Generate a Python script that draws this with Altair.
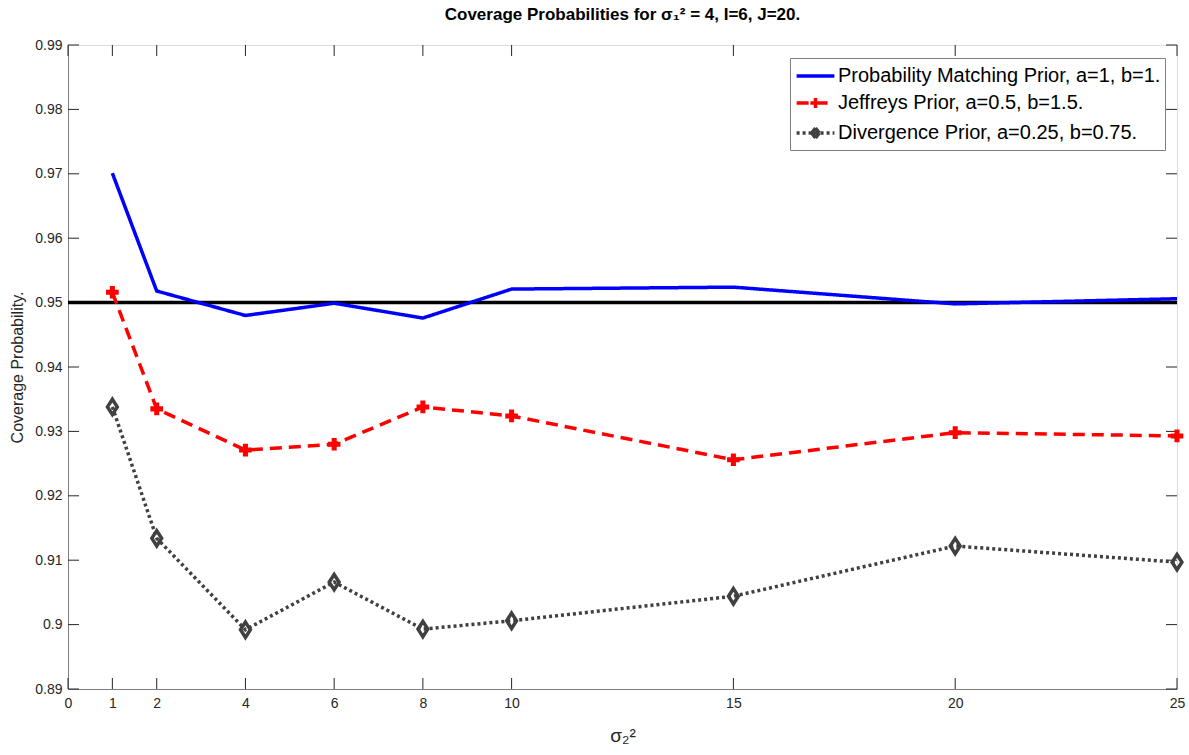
import altair as alt
import pandas as pd

x_vals = [1, 2, 4, 6, 8, 10, 15, 20, 25]
pm_vals = [0.9701, 0.9518, 0.9480, 0.9499, 0.9476, 0.9521, 0.9524, 0.9498, 0.9506]
jf_vals = [0.9516, 0.9335, 0.9271, 0.9280, 0.9338, 0.9324, 0.9256, 0.9298, 0.9293]
dv_vals = [0.9338, 0.9134, 0.8992, 0.9066, 0.8993, 0.9006, 0.9044, 0.9122, 0.9097]
series_names = [
    "Probability Matching Prior, a=1, b=1.",
    "Jeffreys Prior, a=0.5, b=1.5.",
    "Divergence Prior, a=0.25, b=0.75.",
]
series_colors = ["#0000ff", "#ff0000", "#404040"]
series_dashes = [[1, 0], [12, 7], [3, 3]]
x_ticks = [0, 1, 2, 4, 6, 8, 10, 15, 20, 25]
y_ticks = [0.89, 0.9, 0.91, 0.92, 0.93, 0.94, 0.95, 0.96, 0.97, 0.98, 0.99]
target = 0.95

rows = []
for name, vals in zip(series_names, [pm_vals, jf_vals, dv_vals]):
    for xv, yv in zip(x_vals, vals):
        rows.append({"x": xv, "y": yv, "series": name})
df = pd.DataFrame(rows)

FONT = "Liberation Sans"
W, H = 1109, 644

xs = alt.Scale(domain=[0, 25], nice=False, zero=False)
ys = alt.Scale(domain=[0.89, 0.99], nice=False, zero=False)

x_enc = alt.X("x:Q", scale=xs, axis=alt.Axis(
    values=x_ticks, title="σ₂²", grid=False, tickSize=0, labelPadding=7,
    labelFontSize=14, labelColor="#262626", labelFont=FONT,
    titleFont=FONT, titleFontSize=19, titleFontWeight="normal", titleColor="#262626",
    titlePadding=16, domainColor="#808080", labelFlush=False))
y_enc = alt.Y("y:Q", scale=ys, axis=alt.Axis(
    values=y_ticks, format="~g", title="Coverage Probability.", grid=False, tickSize=0,
    labelPadding=6, labelFontSize=14, labelColor="#262626", labelFont=FONT,
    titleFont=FONT, titleFontSize=16, titleFontWeight="normal", titleColor="#262626",
    titlePadding=9, domainColor="#808080", labelFlush=False))

# legend symbol glyphs (line sample with a marker in its middle)
LINE_PATH = "M-0.95,0H2.2"
CROSS_PATH = LINE_PATH + "M0.2,0H1.05M0.625,-0.42V0.42"
cx, hw, hh = 0.625, 0.32, 0.42
corners = [(cx, -hh), (cx + hw, 0), (cx, hh), (cx - hw, 0), (cx, -hh)]
diam_parts = []
for (x0, y0), (x1, y1) in zip(corners[:-1], corners[1:]):
    n = 4
    for k in range(n):
        a0, a1 = k / n, (k + 1) / n
        diam_parts.append(
            f"M{x0 + (x1 - x0) * a0:.3f},{y0 + (y1 - y0) * a0:.3f}"
            f"L{x0 + (x1 - x0) * a1:.3f},{y0 + (y1 - y0) * a1:.3f}")
DIAM_PATH = LINE_PATH + "M0.35,0H0.9" + "".join(diam_parts)
shape_expr = (
    f"datum.value === '{series_names[1]}' ? '{CROSS_PATH}' : "
    f"(datum.value === '{series_names[2]}' ? '{DIAM_PATH}' : '{LINE_PATH}')"
)

legend_cfg = dict(
    title=None, orient="none", legendX=722, legendY=13,
    symbolType=alt.ExprRef(expr=shape_expr), symbolStrokeWidth=3.5, symbolSize=576,
    labelFont=FONT, labelFontSize=20, labelColor="#000000",
    labelLimit=500, rowPadding=3, padding=4, symbolOffset=0,
    strokeColor="#808080", fillColor="white", labelOffset=16, offset=0)

base = alt.Chart(df)

ref = alt.Chart(pd.DataFrame({"y": [target]})).mark_rule(color="black", strokeWidth=3.5).encode(
    y=alt.Y("y:Q", scale=ys))

lines = base.mark_line(strokeWidth=3.5).encode(
    x=x_enc, y=y_enc,
    color=alt.Color("series:N", sort=series_names,
                    scale=alt.Scale(domain=series_names, range=series_colors),
                    legend=alt.Legend(**legend_cfg)),
    strokeDash=alt.StrokeDash("series:N", sort=series_names,
                              scale=alt.Scale(domain=series_names, range=series_dashes),
                              legend=alt.Legend(**legend_cfg)),
)

crosses = base.transform_filter(alt.datum.series == series_names[1]).mark_point(
    shape="cross", filled=True, size=160, color="#ff0000", opacity=1).encode(
    x=alt.X("x:Q", scale=xs), y=alt.Y("y:Q", scale=ys))

diamonds = base.transform_filter(alt.datum.series == series_names[2]).mark_point(
    shape="M0,-1.25L0.8,0L0,1.25L-0.8,0Z", filled=False, size=150, color="#404040",
    strokeWidth=3.5, opacity=1).encode(
    x=alt.X("x:Q", scale=xs), y=alt.Y("y:Q", scale=ys))

tick_col = "#262626"
xt = pd.DataFrame({"x": x_ticks})
yt = pd.DataFrame({"y": y_ticks})
xt_bottom = alt.Chart(xt).mark_rule(color=tick_col, strokeWidth=1).encode(
    x=alt.X("x:Q", scale=xs), y=alt.value(H), y2=alt.value(H - 11))
xt_top = alt.Chart(xt).mark_rule(color=tick_col, strokeWidth=1).encode(
    x=alt.X("x:Q", scale=xs), y=alt.value(0), y2=alt.value(11))
yt_left = alt.Chart(yt).mark_rule(color=tick_col, strokeWidth=1).encode(
    y=alt.Y("y:Q", scale=ys), x=alt.value(0), x2=alt.value(11))
yt_right = alt.Chart(yt).mark_rule(color=tick_col, strokeWidth=1).encode(
    y=alt.Y("y:Q", scale=ys), x=alt.value(W), x2=alt.value(W - 11))

chart = alt.layer(
    xt_bottom, xt_top, yt_left, yt_right, ref, lines, crosses, diamonds
).resolve_scale(x="shared", y="shared").properties(
    width=W, height=H,
    autosize=alt.AutoSizeParams(type="none"),
    padding={"left": 68, "top": 45, "right": 12, "bottom": 66},
    title=alt.TitleParams(
        text="Coverage Probabilities for  σ₁² = 4, I=6, J=20.",
        font=FONT, fontSize=17, fontWeight="bold", color="black",
        anchor="middle", offset=14),
).configure_view(stroke="#808080", strokeWidth=1.5).configure(background="white")

chart.save("out.html", embed_options={"renderer": "svg", "actions": False})
